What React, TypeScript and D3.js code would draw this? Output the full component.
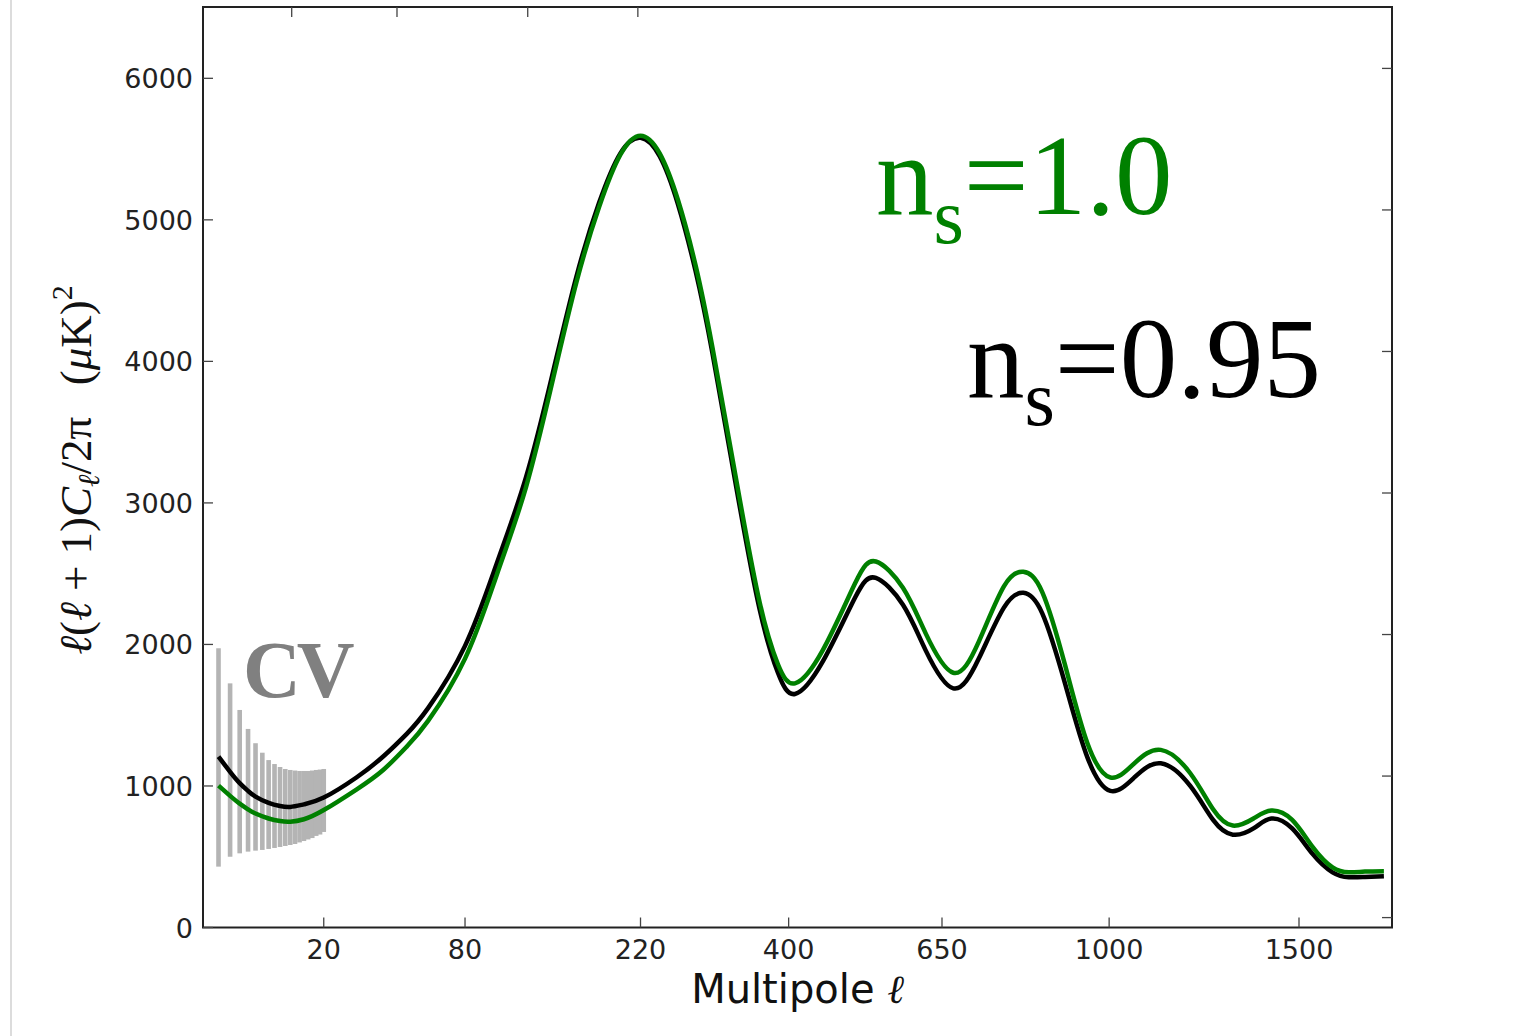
import React from "react";
import * as d3 from "d3";

// ---- data ----
const ells = [2,3,4,5,6,8,10,12,15,20,30,40,50,60,80,100,120,140,160,180,200,220,240,260,280,300,330,360,385,409,450,500,534,580,620,671,720,770,810,850,900,950,1003,1060,1125,1200,1260,1313,1370,1420,1480,1540,1600,1650,1700,1760];
const clNs095 = [1207,1100,1020,965,925,880,858,852,870,918,1060,1210,1370,1550,1990,2580,3180,3900,4600,5120,5470,5580,5450,5110,4640,4060,3100,2250,1800,1650,1880,2330,2470,2280,1960,1690,1900,2260,2365,2220,1720,1200,965,1060,1160,1000,760,656,700,770,700,520,390,355,357,362];
const clNs100 = [1002,930,875,835,805,770,752,748,765,830,975,1115,1280,1460,1900,2500,3110,3850,4560,5090,5460,5595,5470,5140,4680,4100,3150,2300,1860,1725,1960,2430,2586,2400,2080,1800,2020,2410,2513,2370,1850,1300,1060,1160,1255,1090,835,720,770,826,760,570,425,390,395,398];

const cvElls = [2,3,4,5,6,7,8,9,10,11,12,13,14,15,16,17,18,19,20];
const cvTop = [1973,1725,1537,1403,1302,1235,1183,1155,1134,1120,1113,1109,1106,1106,1106,1109,1113,1116,1120];
const cvBottom = [430,500,524,536,543,548,555,562,569,576,583,590,601,611,622,632,647,657,675];

const xTicks = [20, 80, 220, 400, 650, 1000, 1500];
const yTicks = [0, 1000, 2000, 3000, 4000, 5000, 6000];
const topTicks = [12.3, 45.6, 121.3, 217.3];

const GREEN = "#008000";

export default function App() {
  const left = 203, right = 1392, top = 7, bottom = 927.5;
  const x = d3.scalePow().exponent(0.45).domain([1, 1786]).range([left, right]);
  const y = d3.scaleLinear().domain([0, 6500]).range([bottom, bottom - 6500 * 0.14153]);
  const yR = d3.scaleLinear().domain([-70, 6430]).range([bottom, bottom - 6500 * 0.14153]);

  const line = d3
    .line<number>()
    .x((_, i) => x(ells[i]))
    .y((d) => y(d))
    .curve(d3.curveNatural);

  const tickFont = "'DejaVu Sans', sans-serif";
  const serif = "'Liberation Serif', 'Times New Roman', serif";

  return (
    <svg
      width={1536}
      height={1036}
      style={{ position: "absolute", left: 0, top: 0, background: "#fff" }}
    >
      <rect x={0} y={0} width={1536} height={1036} fill="#fff" />
      <line x1={11} x2={11} y1={0} y2={1036} stroke="#dcdcdc" strokeWidth={2} />

      {/* CV bars */}
      {cvElls.map((l, i) => (
        <rect
          key={l}
          x={x(l) - 2.3}
          width={4.6}
          y={y(cvTop[i])}
          height={y(cvBottom[i]) - y(cvTop[i])}
          fill="#b4b4b4"
        />
      ))}

      {/* curves */}
      <path d={line(clNs095) || ""} fill="none" stroke="#000" strokeWidth={4.5} />
      <path d={line(clNs100) || ""} fill="none" stroke={GREEN} strokeWidth={4.5} />

      {/* frame */}
      <rect x={left} y={top} width={right - left} height={bottom - top} fill="none" stroke="#222" strokeWidth={2} />

      {/* bottom ticks */}
      {xTicks.map((t) => (
        <g key={"xb" + t}>
          <line x1={x(t)} x2={x(t)} y1={bottom} y2={bottom - 10} stroke="#444" strokeWidth={1.3} />
          <text x={x(t)} y={959} textAnchor="middle" fontFamily={tickFont} fontSize={27} fill="#222">
            {t}
          </text>
        </g>
      ))}
      {/* top ticks */}
      {topTicks.map((t) => (
        <line key={"xt" + t} x1={x(t)} x2={x(t)} y1={top} y2={top + 10} stroke="#444" strokeWidth={1.3} />
      ))}
      {/* left ticks */}
      {yTicks.map((t) => (
        <g key={"yl" + t}>
          <line x1={left} x2={left + 10} y1={y(t)} y2={y(t)} stroke="#444" strokeWidth={1.3} />
          <text x={193} y={y(t) + 10} textAnchor="end" fontFamily={tickFont} fontSize={27} fill="#222">
            {t}
          </text>
        </g>
      ))}
      {/* right ticks */}
      {yTicks.map((t) => (
        <line key={"yr" + t} x1={right} x2={right - 10} y1={yR(t)} y2={yR(t)} stroke="#444" strokeWidth={1.3} />
      ))}

      {/* axis labels */}
      <text x={(left + right) / 2} y={1003} textAnchor="middle" fontFamily={tickFont} fontSize={40} fill="#111">
        Multipole <tspan fontFamily={serif} fontStyle="italic">ℓ</tspan>
      </text>
      <text
        transform="translate(91,470) rotate(-90)"
        textAnchor="middle"
        fontFamily={serif}
        fontSize={45}
        fill="#111"
        style={{ whiteSpace: "pre" }}
      >
        <tspan fontStyle="italic">ℓ</tspan>(<tspan fontStyle="italic">ℓ</tspan>{"\u2005+\u20051)"}<tspan fontStyle="italic">C</tspan>
        <tspan fontStyle="italic" fontSize={30} dy={8}>ℓ</tspan>
        <tspan dy={-8}>{"/2π\u2002\u2009("}</tspan>
        <tspan fontStyle="italic">μ</tspan>K)
        <tspan fontSize={30} dy={-19}>2</tspan>
      </text>

      {/* annotations */}
      <text x={876} y={214} fontFamily={serif} fontSize={115} fill={GREEN}>
        n<tspan fontSize={78} dy={29}>s</tspan>
        <tspan dy={-29}>=1.0</tspan>
      </text>
      <text x={967} y={397} fontFamily={serif} fontSize={115} fill="#000">
        n<tspan fontSize={78} dy={28}>s</tspan>
        <tspan dy={-28}>=0.95</tspan>
      </text>
      <text x={243} y={697} fontFamily={serif} fontWeight="bold" fontSize={80} fill="#808080" letterSpacing={-4}>
        CV
      </text>
    </svg>
  );
}
